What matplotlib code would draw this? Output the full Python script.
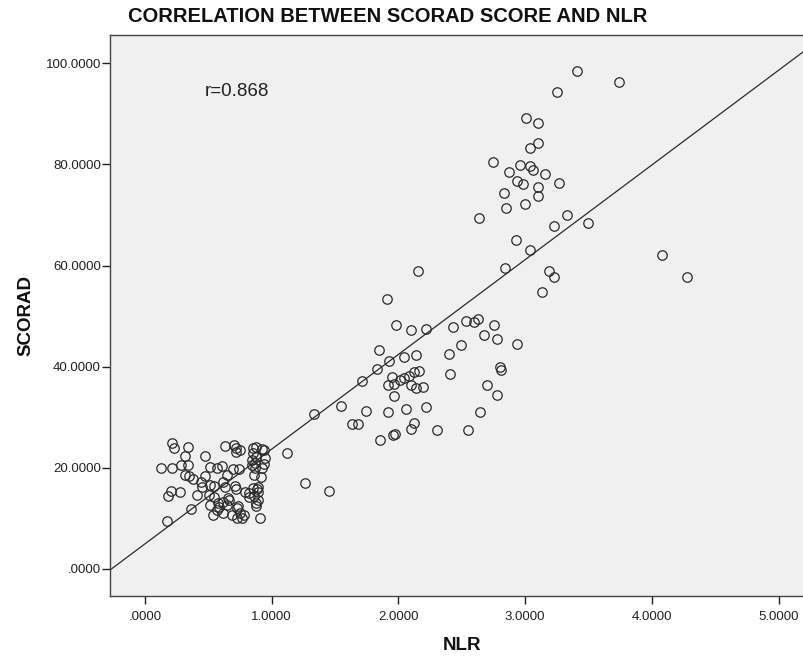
import matplotlib
matplotlib.use("Agg")
import matplotlib.pyplot as plt
from matplotlib.ticker import FuncFormatter, FixedLocator

plt.rcParams['font.family'] = ['Liberation Sans', 'DejaVu Sans']

# ---- data ----
nlr_low = [0.216, 0.229, 0.337, 0.316, 0.476, 0.631, 0.70, 0.72, 0.72, 0.75,
           0.855, 0.88, 0.92, 0.94, 0.85, 0.88, 0.947, 1.118,
           0.126, 0.21, 0.284, 0.342, 0.513, 0.571, 0.608,
           0.316, 0.35, 0.376, 0.474, 0.44, 0.645, 0.697, 0.742,
           0.842, 0.842, 0.868, 0.921, 0.94, 0.86, 0.913,
           0.447, 0.413, 0.508, 0.545, 0.547, 0.618, 0.631, 0.71, 0.718,
           0.203, 0.184, 0.276, 0.361, 0.176, 0.513, 0.539, 0.584, 0.571,
           0.618, 0.658, 0.666, 0.684, 0.724, 0.737, 0.763, 0.781,
           0.823, 0.86, 0.882, 0.889, 0.874, 0.876, 0.908,
           0.87, 0.513, 0.579, 0.618, 0.645, 0.75, 0.724, 0.789, 0.821,
           0.855, 0.89, 0.894]
scorad_low = [24.9, 23.9, 24.2, 22.4, 22.3, 24.4, 24.6, 24.0, 23.1, 23.5,
              23.9, 24.2, 23.7, 23.5, 22.9, 22.2, 21.9, 23.0,
              19.9, 20.0, 20.6, 20.6, 20.2, 20.0, 20.4,
              18.6, 18.3, 17.7, 18.3, 17.3, 18.6, 19.7, 19.7,
              21.6, 20.6, 19.9, 19.9, 20.8, 18.6, 18.1,
              16.2, 14.6, 14.6, 16.4, 14.3, 17.3, 16.3, 16.4, 15.8,
              15.4, 14.5, 15.2, 11.8, 9.55, 12.7, 10.7, 12.3, 11.7,
              11.0, 14.0, 13.6, 10.7, 12.0, 12.5, 10.0, 10.7,
              14.2, 14.4, 15.8, 15.3, 13.0, 12.5, 10.0,
              20.9, 16.6, 13.0, 13.3, 12.7, 11.0, 10.0, 15.3, 15.0,
              16.0, 16.3, 13.6]

nlr_mid = [2.157, 1.907, 1.979, 2.10, 2.218, 2.433, 2.534, 2.60, 2.626, 2.757,
           2.676, 2.776, 2.934, 2.494, 2.397, 1.847, 1.928, 2.047, 2.139, 1.829,
           1.710, 2.163, 2.123, 2.086, 2.044, 2.013, 1.949, 1.968, 1.918, 2.10,
           2.139, 2.197, 1.968, 2.407, 2.802, 2.812, 2.697, 2.776, 2.644, 1.549,
           1.334, 1.742, 1.918, 2.058, 2.218, 1.636, 1.679, 2.123, 2.10, 2.307,
           2.547, 1.857, 1.958, 1.97, 1.263, 1.452]
scorad_mid = [59.0, 53.3, 48.2, 47.3, 47.5, 47.9, 49.1, 48.9, 49.4, 48.3,
              46.3, 45.4, 44.4, 44.2, 42.6, 43.3, 41.2, 41.9, 42.4, 39.6,
              37.2, 39.2, 38.9, 38.2, 37.8, 37.4, 38.0, 36.6, 36.4, 36.4,
              35.7, 35.9, 34.3, 38.6, 39.9, 39.4, 36.4, 34.5, 31.0, 32.3,
              30.7, 31.2, 31.0, 31.6, 32.0, 28.7, 28.7, 28.8, 27.7, 27.4,
              27.5, 25.5, 26.4, 26.6, 17.1, 15.4]

nlr_high = [3.41, 3.74, 3.25, 3.01, 3.10, 3.10, 3.04, 2.75, 2.96, 3.04,
            3.06, 2.87, 3.16, 2.94, 2.98, 3.27, 3.10, 3.10, 2.83, 3.00,
            2.85, 2.64, 3.33, 3.23, 3.50, 2.93, 3.04, 2.84, 3.19, 3.23,
            3.13, 4.08, 4.28]
scorad_high = [98.5, 96.4, 94.3, 89.2, 88.1, 84.3, 83.2, 80.4, 79.8, 79.7,
               79.0, 78.5, 78.2, 76.7, 76.1, 76.4, 75.5, 73.8, 74.4, 72.2,
               71.3, 69.5, 70.0, 67.9, 68.4, 65.1, 63.1, 59.5, 59.0, 57.7,
               54.7, 62.1, 57.7]

nlr = nlr_low + nlr_mid + nlr_high
scorad = scorad_low + scorad_mid + scorad_high

fit_intercept = 4.97
fit_slope = 18.73
r_text = "r=0.868"

x_ticks = [0, 1, 2, 3, 4, 5]
y_ticks = [0, 20, 40, 60, 80, 100]

# ---- figure ----
W, H = 804, 661
fig = plt.figure(figsize=(W / 100, H / 100), dpi=100)
fig.patch.set_facecolor('white')
ax_l, ax_r, ax_t, ax_b = 110, 814, 35, 596
ax = fig.add_axes([ax_l / W, (H - ax_b) / H, (ax_r - ax_l) / W, (ax_b - ax_t) / H])
ax.set_facecolor('#f0f0f0')

xmin, xmax = -0.276, 5.28
ymin, ymax = -5.34, 105.6
ax.set_xlim(xmin, xmax)
ax.set_ylim(ymin, ymax)

ax.plot(nlr, scorad, linestyle='none', marker='o', markersize=6.8,
        markerfacecolor='none', markeredgecolor='#2a2a2a', markeredgewidth=0.9)

ax.plot([xmin, xmax], [fit_intercept + fit_slope * xmin, fit_intercept + fit_slope * xmax],
        color='#2a2a2a', linewidth=0.9)

fmt = FuncFormatter(lambda v, p: (f"{v:.4f}"[1:] if abs(v) < 1e-9 else f"{v:.4f}"))
ax.xaxis.set_major_locator(FixedLocator(x_ticks))
ax.yaxis.set_major_locator(FixedLocator(y_ticks))
ax.xaxis.set_major_formatter(fmt)
ax.yaxis.set_major_formatter(fmt)
ax.tick_params(axis='both', direction='out', length=6, width=1.0, color='#222222',
               labelsize=9.5, labelcolor='#222222', pad=0.5)
ax.tick_params(axis='x', pad=5)

for s in ['left', 'bottom', 'top']:
    ax.spines[s].set_color('#444444')
    ax.spines[s].set_linewidth(1.0)
ax.spines['right'].set_visible(False)

ax.text(205 / W, (H - 92) / H, r_text, transform=fig.transFigure, fontsize=13.5,
        color='#222222', ha='left', va='center')

fig.text(128 / W, (H - 16) / H, "CORRELATION BETWEEN SCORAD SCORE AND NLR",
         fontsize=14.5, fontweight='bold', color='#111111', ha='left', va='center')

ax.set_xlabel("NLR", fontsize=13.5, fontweight='bold', color='#111111', labelpad=10)
ax.set_ylabel("SCORAD", fontsize=13.5, fontweight='bold', color='#111111', labelpad=8)

fig.savefig("out.png", dpi=100, facecolor='white')
